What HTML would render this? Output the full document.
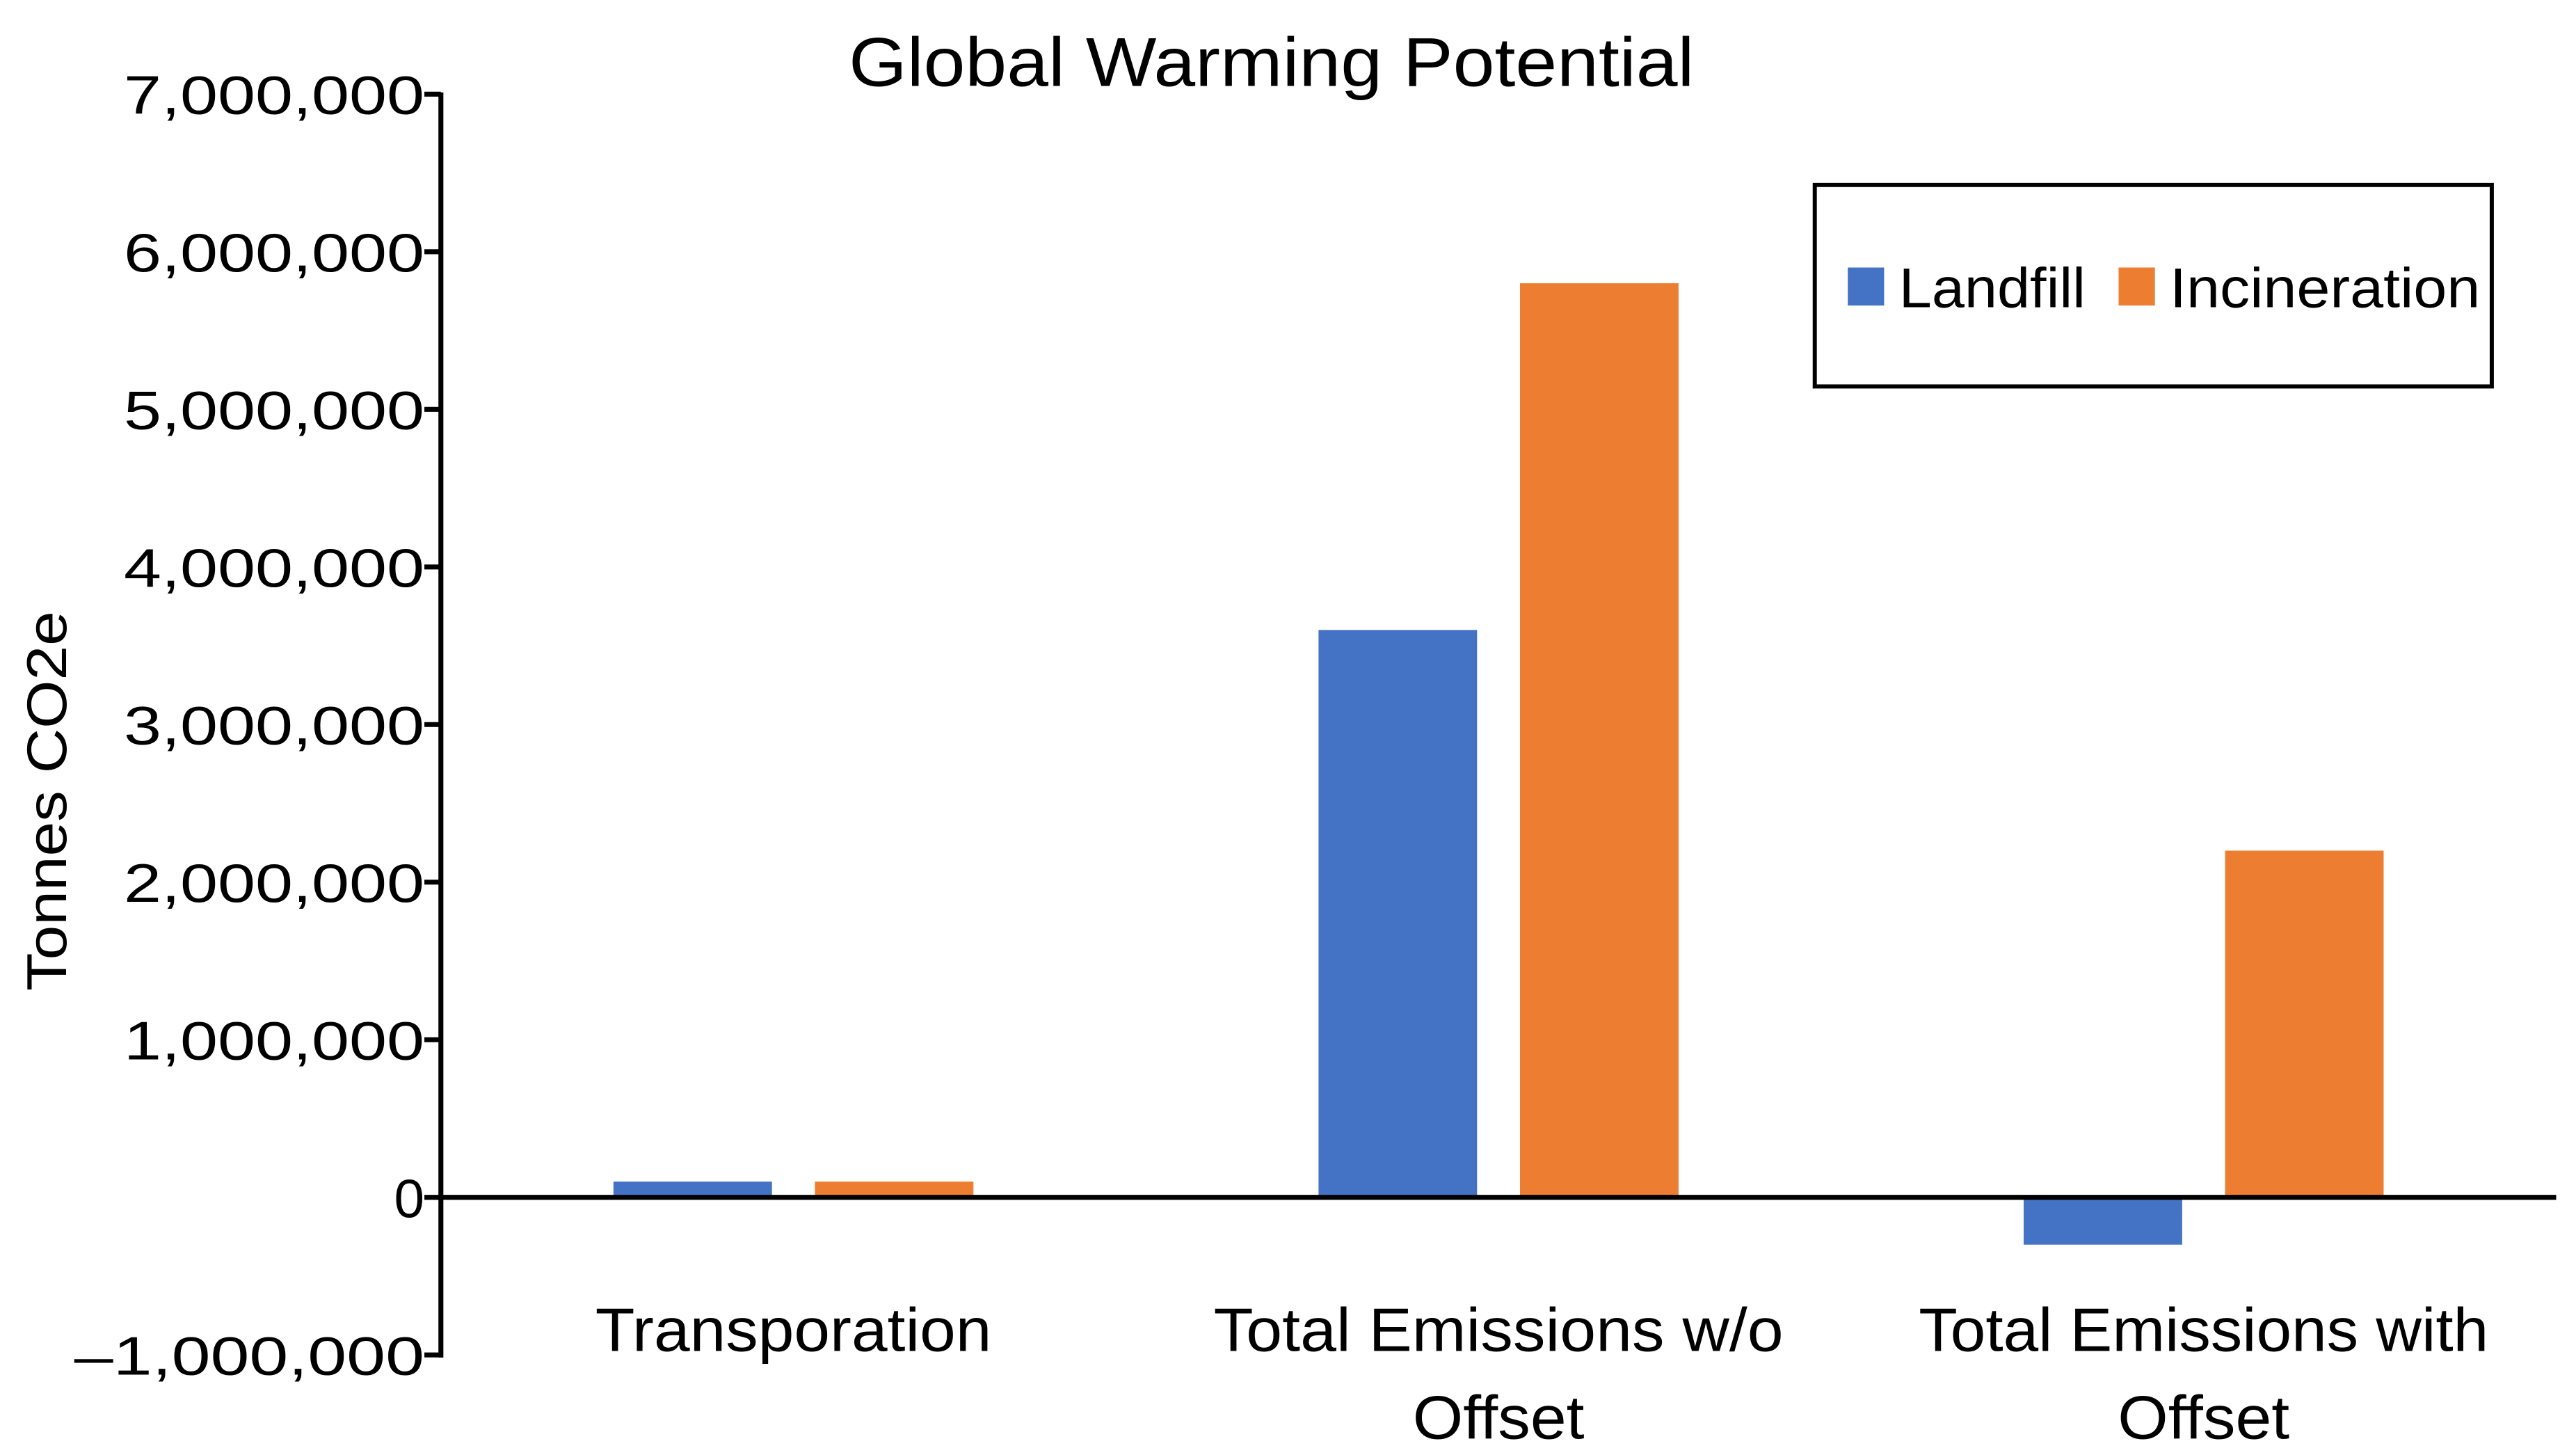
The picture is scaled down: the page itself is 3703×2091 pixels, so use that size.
<!DOCTYPE html>
<html><head><meta charset="utf-8"><style>
html,body{margin:0;padding:0;background:#fff;}
svg{display:block;font-family:"Liberation Sans",sans-serif;}
</style></head><body>
<svg id="chart" width="3703" height="2091" viewBox="0 0 1560 881" preserveAspectRatio="none" xmlns="http://www.w3.org/2000/svg">
<rect x="0" y="0" width="1560" height="881" fill="#fff"/>
<text x="770" y="52" font-size="42" text-anchor="middle" textLength="512" lengthAdjust="spacingAndGlyphs">Global Warming Potential</text>
<text transform="translate(40,485) rotate(-90)" font-size="34" text-anchor="middle" textLength="230" lengthAdjust="spacingAndGlyphs">Tonnes CO2e</text>
<g id="yticks"></g>
<g id="bars"></g>
<g id="xlabels"></g>
<line x1="267" y1="56" x2="267" y2="822" stroke="#000" stroke-width="3"/>
<g>
<rect x="1099" y="112" width="410" height="122" fill="none" stroke="#000" stroke-width="2.5"/>
<rect x="1119" y="162" width="22" height="23" fill="#4472C4"/>
<text x="1150" y="186" font-size="34" textLength="113" lengthAdjust="spacingAndGlyphs">Landfill</text>
<rect x="1283" y="162" width="22" height="23" fill="#ED7D31"/>
<text x="1314" y="186" font-size="34" textLength="188" lengthAdjust="spacingAndGlyphs">Incineration</text>
</g>
</svg>
<script>
const categories = [["Transporation"], ["Total Emissions w/o", "Offset"], ["Total Emissions with", "Offset"]];
const landfill = [100000, 3600000, -300000];
const incineration = [100000, 5800000, 2200000];
const yTicks = [7000000, 6000000, 5000000, 4000000, 3000000, 2000000, 1000000, 0, -1000000];
const yTickLabels = ["7,000,000", "6,000,000", "5,000,000", "4,000,000", "3,000,000", "2,000,000", "1,000,000", "0", "\u20131,000,000"];

const NS = "http://www.w3.org/2000/svg";
const X0 = 267, X1 = 1548, Y0 = 725, PX_PER = 95.43 / 1000000;
function yScale(v){ return Y0 - v * PX_PER; }
const catW = (X1 - X0) / categories.length;
function catCenter(i){ return X0 + catW * (i + 0.5); }
const barW = 96, gap = 26;
function mk(tag, attrs){ const e = document.createElementNS(NS, tag); for (const k in attrs) e.setAttribute(k, attrs[k]); return e; }

const yt = document.getElementById('yticks');
yTicks.forEach((v, i) => {
  const y = yScale(v);
  const t = mk('line', {x1: 257, x2: 267, y1: y, y2: y, stroke: '#000', 'stroke-width': 3});
  
  
  yt.appendChild(t);
  const lbl = yTickLabels[i];
  const tx = mk('text', {x: 257, y: y + 12, 'font-size': 33, 'text-anchor': 'end'});
  if (lbl.length > 3) { tx.setAttribute('textLength', lbl.length > 9 ? 212 : 182); tx.setAttribute('lengthAdjust', 'spacingAndGlyphs'); }
  tx.textContent = lbl;
  
  
  yt.appendChild(tx);
});

const bars = document.getElementById('bars');
categories.forEach((c, i) => {
  const cx = catCenter(i);
  [[landfill, '#4472C4', -1, 'landfill'], [incineration, '#ED7D31', 1, 'incineration']].forEach(([arr, col, side, nm]) => {
    const v = arr[i];
    const x = side < 0 ? cx - gap / 2 - barW : cx + gap / 2;
    const y1 = yScale(Math.max(v, 0)), y2 = yScale(Math.min(v, 0));
    const r = mk('rect', {x: x, y: y1, width: barW, height: y2 - y1, fill: col});
    
    
    bars.appendChild(r);
  });
});
const xa = mk('line', {x1: X0, x2: X1, y1: Y0, y2: Y0, stroke: '#000', 'stroke-width': 3});


bars.appendChild(xa);

const xl = document.getElementById('xlabels');
categories.forEach((lines, i) => {
  lines.forEach((ln, j) => {
    const t = mk('text', {x: catCenter(i), y: 818 + j * 53, 'font-size': 37, 'text-anchor': 'middle'});
    const w = ln.length > 12 ? (ln.length > 18 ? 345 : 240) : 104;
    t.setAttribute('textLength', ln === "Transporation" ? 240 : w);
    t.setAttribute('lengthAdjust', 'spacingAndGlyphs');
    t.textContent = ln;
    
    
    xl.appendChild(t);
  });
});
</script>
</body></html>
